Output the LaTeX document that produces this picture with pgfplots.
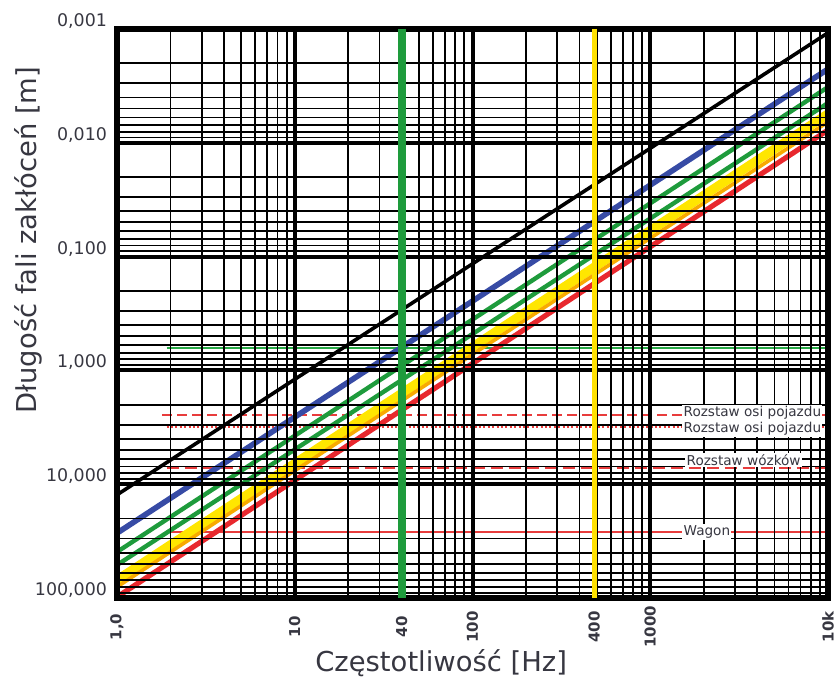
\documentclass[border=0pt]{standalone}
\usepackage{fontspec}
\setmainfont{DejaVu Sans}
\usepackage{pgfplots}
\pgfplotsset{compat=1.18}

\definecolor{cblue}{RGB}{55,75,165}
\definecolor{cgreen}{RGB}{30,155,60}
\definecolor{cyellow}{RGB}{255,230,0}
\definecolor{corange}{RGB}{248,170,0}
\definecolor{cred}{RGB}{232,40,46}
\definecolor{hred}{RGB}{232,60,60}
\definecolor{hgreen}{RGB}{40,170,70}
\definecolor{txt}{RGB}{55,55,65}

\begin{document}
\begin{tikzpicture}
\begin{axis}[
  name=ax,
  set layers=axis on top,
  scale only axis,
  width=355.5pt, height=284.5pt,
  xmode=log, ymode=log,
  y dir=reverse,
  xmin=1, xmax=10000, ymin=0.001, ymax=100,
  xtick={1,10,40,100,483,1000,10000},
  xticklabels={{1,0},10,40,100,400,1000,10k},
  ytick={0.001,0.01,0.1,1,10,100},
  yticklabels={{0,001},{0,010},{0,100},{1,000},{10,000},{100,000}},
  minor xtick={2,3,4,5,6,7,8,9,20,30,50,60,70,80,90,200,300,400,500,600,700,800,900,2000,3000,4000,5000,6000,7000,8000,9000},
  minor ytick={0.002,0.003,0.004,0.005,0.006,0.007,0.008,0.009,0.02,0.03,0.04,0.05,0.06,0.07,0.08,0.09,0.2,0.3,0.4,0.5,0.6,0.7,0.8,0.9,2,3,4,5,6,7,8,9,20,30,40,50,60,70,80,90},
  grid=both,
  major grid style={black, line width=2pt},
  minor grid style={black, line width=0.9pt},
  axis line style={black, line width=2.6pt},
  major tick length=0pt, minor tick length=0pt,
  tick style={draw=none},
  xticklabel style={font=\fontsize{7.5}{8}\selectfont\bfseries, text=txt, yshift=-14.5pt, rotate=90, anchor=center},
  yticklabel style={font=\fontsize{8.7}{9}\selectfont, text=txt, anchor=east, xshift=-1.5pt, yshift=4pt},
  xlabel={Częstotliwość [Hz]},
  ylabel={Długość fali zakłóceń [m]},
  label style={font=\fontsize{13.7}{15}\selectfont, text=txt},
  xlabel style={at={(axis description cs:0.456,-0.114)}, anchor=center},
  ylabel style={at={(axis description cs:-0.125,0.629)}, anchor=center},
]
% horizontal reference lines
\addplot[hgreen, line width=0.8pt] coordinates {(1.9,0.635) (10000,0.635)};
\addplot[hred, line width=1pt, dash pattern=on 5pt off 2.5pt] coordinates {(1.8,2.47) (10000,2.47)};
\addplot[hred, line width=1pt, dash pattern=on 1pt off 1.2pt] coordinates {(1.9,3.14) (10000,3.14)};
\addplot[hred, line width=1pt, dash pattern=on 6pt off 3pt] coordinates {(1.9,7.2) (10000,7.2)};
\addplot[hred, line width=0.9pt] coordinates {(1.9,26.3) (10000,26.3)};
% wavelength lines
\addplot[black, line width=1.8pt] coordinates {(1,12.4) (10000,0.00108)};
\addplot[cblue, line width=2.8pt] coordinates {(1,26.9) (10000,0.00225)};
\addplot[cgreen, line width=2.2pt] coordinates {(1,39.4) (10000,0.00324)};
\addplot[cgreen, line width=2.2pt] coordinates {(1,51.3) (10000,0.00447)};
\addplot[cyellow, line width=4.6pt] coordinates {(1,69.5) (10000,0.00558)};
\addplot[corange, line width=1.8pt] coordinates {(1,80.0) (10000,0.00656)};
\addplot[cred, line width=2.6pt] coordinates {(1,98) (10000,0.00773)};
% vertical frequency lines
\addplot[cgreen, line width=4pt, on layer=axis foreground] coordinates {(40,0.001) (40,100)};
\addplot[cyellow!95!orange, line width=2.5pt, on layer=axis foreground] coordinates {(483,0.001) (483,100)};
\begin{pgfonlayer}{axis foreground}
\node[anchor=west, fill=white, inner sep=0.6pt, font=\fontsize{6.8}{7}\selectfont, text=txt] at (axis cs:1510,2.37) {Rozstaw osi pojazdu};
\node[anchor=west, fill=white, inner sep=0.6pt, font=\fontsize{6.8}{7}\selectfont, text=txt] at (axis cs:1510,3.27) {Rozstaw osi pojazdu};
\node[anchor=west, fill=white, inner sep=0.6pt, font=\fontsize{6.8}{7}\selectfont, text=txt] at (axis cs:1570,6.12) {Rozstaw wózków};
\node[anchor=west, fill=white, inner sep=0.6pt, font=\fontsize{6.8}{7}\selectfont, text=txt] at (axis cs:1510,26.3) {Wagon};
\end{pgfonlayer}
\end{axis}
\pgfresetboundingbox
\path[use as bounding box] ([xshift=-58.5pt,yshift=-41.5pt]ax.south west) rectangle ([xshift=3pt,yshift=14.5pt]ax.north east);
\end{tikzpicture}
\end{document}
